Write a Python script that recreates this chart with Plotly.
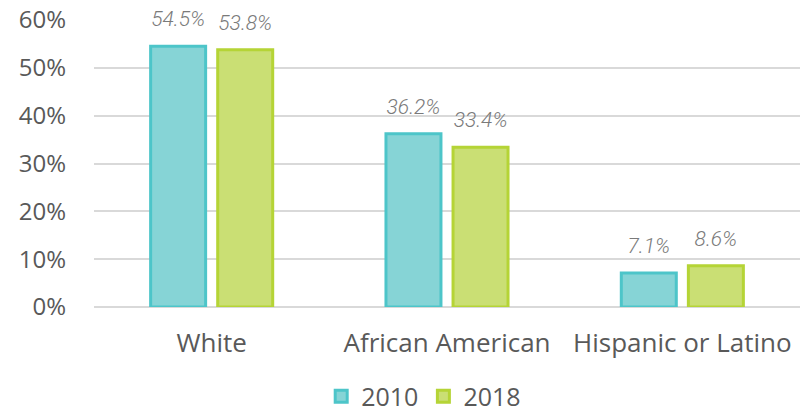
import plotly.graph_objects as go

categories = ["White", "African American", "Hispanic or Latino"]
series_names = ["2010", "2018"]
values_2010 = [54.5, 36.2, 7.1]
values_2018 = [53.8, 33.4, 8.6]
y_ticks = [0, 10, 20, 30, 40, 50, 60]

fills = ["#86D4D6", "#CADF74"]
borders = ["#4DC5C9", "#B5D436"]
FONT = "Open Sans"

fig = go.Figure()
for name, vals, fc, bc in zip(series_names, [values_2010, values_2018], fills, borders):
    fig.add_trace(go.Bar(
        x=categories, y=vals, name=name, offsetgroup=name,
        marker=dict(color=fc, line=dict(color=bc, width=3)),
    ))
for name, vals in zip(series_names, [values_2010, values_2018]):
    fig.add_trace(go.Scatter(
        x=categories, y=vals, offsetgroup=name, mode="markers+text",
        text=[f"{v:.1f}%" for v in vals], textposition="top center",
        marker=dict(size=22, opacity=0), showlegend=False, hoverinfo="skip",
        textfont=dict(family="Roboto", size=21, color="#7A7A7A", style="italic", weight=300),
        cliponaxis=False,
    ))

fig.update_layout(
    width=812, height=413,
    margin=dict(l=94, r=12, t=20, b=106),
    paper_bgcolor="white", plot_bgcolor="white",
    barmode="group", bargap=0.43, bargroupgap=0.18,
    scattermode="group", scattergap=0.43,
    font=dict(family=FONT, color="#595959"),
    showlegend=True,
    legend=dict(orientation="h", x=0.467, xanchor="center", yref="container", y=0.04,
                yanchor="middle", font=dict(family=FONT, size=25, color="#595959"),
                traceorder="normal"),
    xaxis=dict(tickfont=dict(size=26, color="#595959"), showline=False, ticks="",
               ticklabelstandoff=18, automargin=False),
    yaxis=dict(range=[0, 60], tickvals=y_ticks, ticktext=[f"{t}%" for t in y_ticks],
               tickfont=dict(size=24, color="#595959"), showgrid=True, gridcolor="#D9D9D9",
               gridwidth=1.5, zeroline=True, zerolinecolor="#D9D9D9", zerolinewidth=1.5,
               ticklabelstandoff=27, automargin=False),
)

fig.write_html("out.html", config={"displayModeBar": False},
               post_script="document.body.style.margin='0';")
